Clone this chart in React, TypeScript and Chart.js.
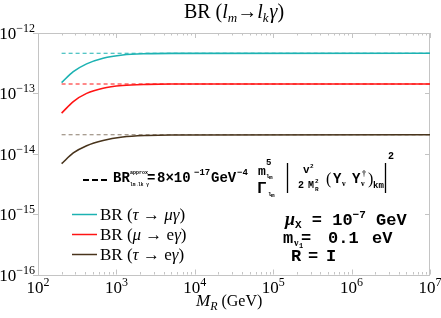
import React, { useEffect, useRef } from 'react';
import { Chart, registerables } from 'chart.js';

Chart.register(...registerables);

// ---- data ----
const massGeV = [200, 282, 417, 676, 1200, 2450, 5000, 1e7];
const brTauMuGamma = [1.51e-13, 2.29e-13, 3.08e-13, 3.82e-13, 4.33e-13, 4.55e-13, 4.6e-13, 4.61e-13];
const brMuEGamma = [4.71e-14, 7.33e-14, 1.0e-13, 1.22e-13, 1.35e-13, 1.41e-13, 1.43e-13, 1.43e-13];
const brTauEGamma = [6.84e-15, 1.03e-14, 1.36e-14, 1.66e-14, 1.89e-14, 2.01e-14, 2.05e-14, 2.06e-14];

const approxMassGeV = [200, 1e7];
const approxTauMuGamma = [4.61e-13, 4.61e-13];
const approxMuEGamma = [1.43e-13, 1.43e-13];
const approxTauEGamma = [2.06e-14, 2.06e-14];

const xTickExponents = [2, 3, 4, 5, 6, 7];
const yTickExponents = [-12, -13, -14, -15, -16];
const minorMultipliers = [2, 3, 4, 5, 6, 7, 8, 9];

const legendLabels = [
  { greekA: 'τ', mid: ' → ', greekB: 'μγ', plainB: '' },
  { greekA: 'μ', mid: ' → ', greekB: 'γ', plainB: 'e' },
  { greekA: 'τ', mid: ' → ', greekB: 'γ', plainB: 'e' },
];

const CYAN = 'rgb(28,178,178)';
const RED = 'rgb(255,20,20)';
const BROWN = 'rgb(72,52,28)';
const BROWN_DASH = 'rgb(140,126,110)';

const SERIF = '"Liberation Serif", "DejaVu Serif", serif';
const MONO = '"Liberation Mono", "DejaVu Sans Mono", monospace';

type Seg = { t: string; f: string; dy?: number; dx?: number };

function rich(ctx: CanvasRenderingContext2D, segs: Seg[], x: number, y: number, align: 'left' | 'center' | 'right' = 'left') {
  let w = 0;
  for (const s of segs) {
    ctx.font = s.f;
    w += ctx.measureText(s.t).width + (s.dx || 0);
  }
  let cx = align === 'center' ? x - w / 2 : align === 'right' ? x - w : x;
  for (const s of segs) {
    ctx.font = s.f;
    cx += s.dx || 0;
    ctx.fillText(s.t, cx, y + (s.dy || 0));
    cx += ctx.measureText(s.t).width;
  }
  return w;
}

const pts = (xs: number[], ys: number[]) => xs.map((x, i) => ({ x, y: ys[i] }));

const decorPlugin = {
  id: 'decor',
  beforeDatasetsDraw(chart: any) {
    const ctx: CanvasRenderingContext2D = chart.ctx;
    const { left, right, top, bottom } = chart.chartArea;
    const xs = chart.scales.x;
    const ys = chart.scales.y;
    ctx.save();
    ctx.strokeStyle = '#c4c4c4';
    ctx.lineWidth = 1;
    ctx.strokeRect(Math.round(left) + 0.5, Math.round(top) + 0.5, Math.round(right - left) - 1, Math.round(bottom - top));
    ctx.beginPath();
    for (const e of xTickExponents) {
      const px = Math.round(xs.getPixelForValue(Math.pow(10, e))) + 0.5;
      ctx.moveTo(px, bottom); ctx.lineTo(px, bottom - 5);
      ctx.moveTo(px, top); ctx.lineTo(px, top + 5);
      if (e < 7) {
        for (const m of minorMultipliers) {
          const pm = Math.round(xs.getPixelForValue(m * Math.pow(10, e))) + 0.5;
          ctx.moveTo(pm, bottom); ctx.lineTo(pm, bottom - 2.5);
          ctx.moveTo(pm, top); ctx.lineTo(pm, top + 2.5);
        }
      }
    }
    for (const e of yTickExponents) {
      const py = Math.round(ys.getPixelForValue(Math.pow(10, e))) + 0.5;
      ctx.moveTo(left - 5, py); ctx.lineTo(left, py);
      ctx.moveTo(right, py); ctx.lineTo(right - 5, py);
    }
    ctx.stroke();
    ctx.restore();
  },
  afterDraw(chart: any) {
    const ctx: CanvasRenderingContext2D = chart.ctx;
    const { left } = chart.chartArea;
    const xs = chart.scales.x;
    const ys = chart.scales.y;
    ctx.save();
    ctx.fillStyle = '#000';
    ctx.textBaseline = 'alphabetic';

    // title
    const T = `20px ${SERIF}`, TI = `italic 20px ${SERIF}`, TS = `italic 13px ${SERIF}`;
    rich(ctx, [
      { t: 'BR (', f: T }, { t: 'l', f: TI }, { t: 'm', f: TS, dy: 4 },
      { t: '→', f: T }, { t: 'l', f: TI }, { t: 'k', f: TS, dy: 4 },
      { t: 'γ', f: TI, dx: 1 }, { t: ')', f: T },
    ], 234, 18, 'center');

    // x tick labels
    const L = `17px ${SERIF}`, LS = `12px ${SERIF}`;
    for (const e of xTickExponents) {
      const px = xs.getPixelForValue(Math.pow(10, e));
      rich(ctx, [{ t: '10', f: L }, { t: String(e), f: LS, dy: -7 }], px, 293, 'center');
    }
    // y tick labels
    for (const e of yTickExponents) {
      const py = ys.getPixelForValue(Math.pow(10, e));
      rich(ctx, [{ t: '10', f: L }, { t: '−' + String(-e), f: LS, dy: -7 }], left - 3, py + 6, 'right');
    }
    // x axis title
    rich(ctx, [
      { t: 'M', f: `italic 17px ${SERIF}` }, { t: 'R', f: `italic 12px ${SERIF}`, dy: 4 },
      { t: ' (GeV)', f: `16px ${SERIF}` },
    ], 196, 306);

    // legend
    const colors = [CYAN, RED, BROWN];
    const LI = `italic 17px ${SERIF}`;
    legendLabels.forEach((lab, i) => {
      const y = 214 + i * 20;
      ctx.strokeStyle = colors[i];
      ctx.lineWidth = 1.5;
      ctx.beginPath(); ctx.moveTo(72, y + 0.5); ctx.lineTo(97, y + 0.5); ctx.stroke();
      const segs: Seg[] = [{ t: 'BR (', f: L }, { t: lab.greekA, f: LI }, { t: lab.mid, f: L }];
      if (lab.plainB) segs.push({ t: lab.plainB, f: L });
      segs.push({ t: lab.greekB, f: LI }, { t: ')', f: L });
      rich(ctx, segs, 100, y + 6);
    });

    // parameter block
    const P = `bold 17px ${MONO}`, PS = `bold 11px ${MONO}`;
    rich(ctx, [
      { t: 'μ', f: `italic bold 18px ${SERIF}` }, { t: 'X', f: PS, dy: 3 },
      { t: ' = 10', f: P }, { t: '−7', f: PS, dy: -7 }, { t: ' GeV', f: P },
    ], 285, 225);
    ctx.font = P; ctx.fillText('m', 283, 243);
    ctx.font = `bold 10px ${SERIF}`; ctx.fillText('ν', 294, 246);
    ctx.font = `bold 7px ${MONO}`; ctx.fillText('1', 299, 248);
    ctx.font = P; ctx.fillText('=', 301, 243);
    ctx.fillText('0.1', 328, 243);
    ctx.fillText('eV', 372, 243);
    ctx.fillText('R', 291, 261);
    ctx.fillText('=', 308, 261);
    ctx.fillText('I', 326, 261);

    // formula
    ctx.strokeStyle = '#000';
    ctx.lineWidth = 2;
    ctx.beginPath();
    for (let k = 0; k < 3; k++) {
      ctx.moveTo(83 + k * 9, 180); ctx.lineTo(89 + k * 9, 180);
    }
    ctx.stroke();
    const F = `bold 14px ${MONO}`, FS = `bold 9px ${MONO}`, FT = `bold 6px ${MONO}`;
    ctx.font = F; ctx.fillText('BR', 113, 182);
    ctx.font = `bold 5px ${MONO}`; ctx.fillText('approx', 130, 174);
    ctx.font = `bold 4.5px ${MONO}`; ctx.fillText('lm→lk γ', 130, 186);
    ctx.font = F; ctx.fillText('=', 147, 182);
    ctx.font = F; ctx.fillText('8×10', 157, 182);
    ctx.font = FS; ctx.fillText('−17', 194, 175);
    ctx.font = F; ctx.fillText('GeV', 211, 182);
    ctx.font = FS; ctx.fillText('−4', 237, 175);
    // m^5_{l_m} / Γ_{l_m}
    ctx.font = `bold 13px ${MONO}`; ctx.fillText('m', 258, 175);
    ctx.font = FS; ctx.fillText('5', 266, 165);
    ctx.font = FT; ctx.fillText('l', 266, 178); ctx.fillText('m', 269, 179);
    ctx.font = `bold 16px ${MONO}`; ctx.fillText('Γ', 257, 193);
    ctx.font = FT; ctx.fillText('l', 268, 196); ctx.fillText('m', 271, 197);
    // absolute value bars
    ctx.lineWidth = 1.3;
    ctx.beginPath();
    ctx.moveTo(287.5, 163); ctx.lineTo(287.5, 193);
    ctx.moveTo(385.5, 163); ctx.lineTo(385.5, 193);
    ctx.stroke();
    // v^2 / (2 M_R^2)
    ctx.font = `bold 11px ${MONO}`; ctx.fillText('v', 303, 173);
    ctx.font = FT; ctx.fillText('2', 310, 168);
    ctx.font = `bold 10px ${MONO}`; ctx.fillText('2', 298, 188); ctx.fillText('M', 308, 188);
    ctx.font = FT; ctx.fillText('2', 315, 183); ctx.fillText('R', 315, 191);
    // (Y_ν Y_ν^†)_km
    ctx.font = `16px ${SERIF}`; ctx.fillText('(', 326, 184);
    ctx.font = F; ctx.fillText('Y', 333, 183);
    ctx.font = `bold 8px ${SERIF}`; ctx.fillText('ν', 342, 186);
    ctx.font = F; ctx.fillText('Y', 352, 183);
    ctx.font = `bold 8px ${SERIF}`; ctx.fillText('†', 362, 176); ctx.fillText('ν', 361, 186);
    ctx.font = `16px ${SERIF}`; ctx.fillText(')', 368, 184);
    ctx.font = FS; ctx.fillText('km', 373, 188);
    ctx.font = `bold 10px ${MONO}`; ctx.fillText('2', 388, 159);

    ctx.restore();
  },
};

export default function App() {
  const ref = useRef<HTMLCanvasElement | null>(null);
  useEffect(() => {
    if (!ref.current) return;
    const chart = new Chart(ref.current, {
      type: 'line',
      data: {
        datasets: [
          { label: 'BR (τ → μγ)', data: pts(massGeV, brTauMuGamma), borderColor: CYAN, borderWidth: 1.6, cubicInterpolationMode: 'monotone', order: 0 },
          { label: 'BR (μ → eγ)', data: pts(massGeV, brMuEGamma), borderColor: RED, borderWidth: 1.6, cubicInterpolationMode: 'monotone', order: 0 },
          { label: 'BR (τ → eγ)', data: pts(massGeV, brTauEGamma), borderColor: BROWN, borderWidth: 1.6, cubicInterpolationMode: 'monotone', order: 0 },
          { label: 'approx τμ', data: pts(approxMassGeV, approxTauMuGamma), borderColor: CYAN, borderWidth: 1.1, borderDash: [4, 3], order: 1 },
          { label: 'approx μe', data: pts(approxMassGeV, approxMuEGamma), borderColor: RED, borderWidth: 1.1, borderDash: [4, 3], order: 1 },
          { label: 'approx τe', data: pts(approxMassGeV, approxTauEGamma), borderColor: BROWN_DASH, borderWidth: 1.1, borderDash: [4, 3], order: 1 },
        ],
      } as any,
      options: {
        responsive: false,
        animation: false,
        layout: { padding: { left: 38, right: 11, top: 33, bottom: 43.5 } },
        elements: { point: { radius: 0 } },
        plugins: { legend: { display: false }, title: { display: false }, tooltip: { enabled: false } },
        scales: {
          x: { type: 'logarithmic', min: 100, max: 1e7, display: false },
          y: { type: 'logarithmic', min: 1e-16, max: 1e-12, display: false },
        },
      } as any,
      plugins: [decorPlugin],
    });
    return () => chart.destroy();
  }, []);
  return (
    <div style={{ position: 'fixed', left: 0, top: 0, width: 441, height: 318, background: '#fff' }}>
      <canvas ref={ref} width={441} height={318} style={{ width: 441, height: 318, display: 'block' }} />
    </div>
  );
}
